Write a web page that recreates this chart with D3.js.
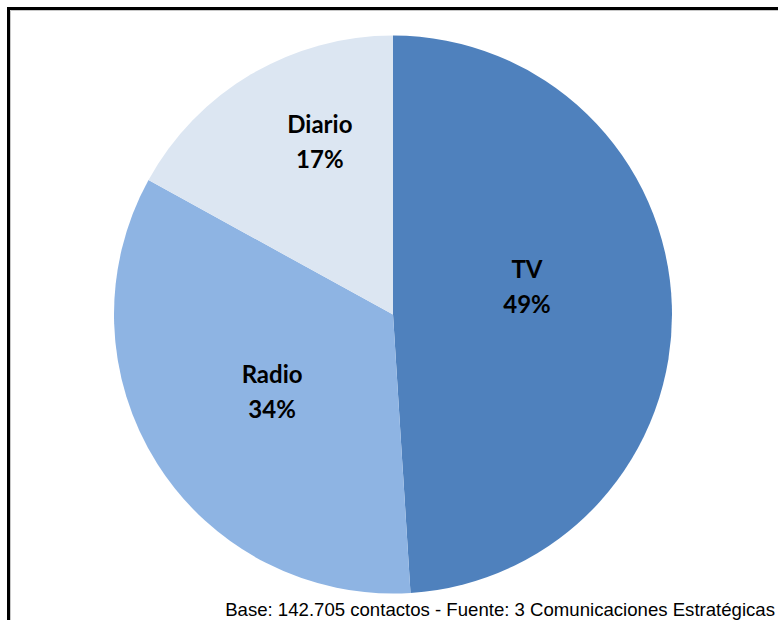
<!DOCTYPE html>
<html>
<head>
<meta charset="utf-8">
<script src="https://cdn.jsdelivr.net/npm/d3@7"></script>
<style>
  html, body { margin: 0; padding: 0; background: #fff; }
  svg { display: block; }
</style>
</head>
<body>
<svg id="chart" width="778" height="620"></svg>
<script>
// Media share of contacts
const categories = ["TV", "Radio", "Diario"];
const shares = [49, 34, 17];
const shareLabels = ["49%", "34%", "17%"];
const sliceColors = ["#4F81BD", "#8EB4E3", "#DCE6F2"];
const footnote = "Base: 142.705 contactos - Fuente: 3 Comunicaciones Estratégicas";

// Label placement (fraction of radius, extra angle in degrees) per slice
const labelRadius = [0.494, 0.505, 0.688];
const labelAngleShift = [-11.8, 1.5, 8.2];

const W = 778, H = 620;
const cx = 393, cy = 314.5, r = 279;

const svg = d3.select("#chart");

// frame
svg.append("path")
  .attr("d", `M8.5,${H + 5} V8.5 H${W + 5}`)
  .attr("fill", "none").attr("stroke", "#000").attr("stroke-width", 3);
svg.append("path")
  .attr("d", `M10.5,${H + 5} V10.5 H${W + 5}`)
  .attr("fill", "none").attr("stroke", "#c8c8c8").attr("stroke-width", 1);

const pie = d3.pie().sort(null).value(d => d.v);
const data = categories.map((c, i) => ({ c, v: shares[i], lab: shareLabels[i], i }));
const arcs = pie(data);
const arc = d3.arc().innerRadius(0).outerRadius(r);

const g = svg.append("g").attr("transform", `translate(${cx},${cy})`);

g.selectAll("path.slice")
  .data(arcs)
  .join("path")
  .attr("class", "slice")
  .attr("d", arc)
  .attr("fill", d => sliceColors[d.data.i]);

const labels = g.selectAll("text.lbl")
  .data(arcs)
  .join("text")
  .attr("class", "lbl")
  .attr("text-anchor", "middle")
  .attr("font-family", "Lato, 'Open Sans', sans-serif")
  .attr("font-weight", "bold")
  .attr("font-size", 24)
  .attr("fill", "#000")
  .attr("transform", d => {
    const i = d.data.i;
    const a = (d.startAngle + d.endAngle) / 2 + labelAngleShift[i] * Math.PI / 180;
    const rr = labelRadius[i] * r;
    return `translate(${rr * Math.sin(a)},${-rr * Math.cos(a)})`;
  });

labels.append("tspan").attr("x", 0).attr("y", -4).text(d => d.data.c);
labels.append("tspan").attr("x", 0).attr("y", 31).text(d => d.data.lab);

svg.append("text")
  .attr("x", 775)
  .attr("y", 616)
  .attr("text-anchor", "end")
  .attr("font-family", "'Liberation Sans', Arial, sans-serif")
  .attr("font-size", 18.6)
  .attr("fill", "#000")
  .text(footnote);
</script>
</body>
</html>
